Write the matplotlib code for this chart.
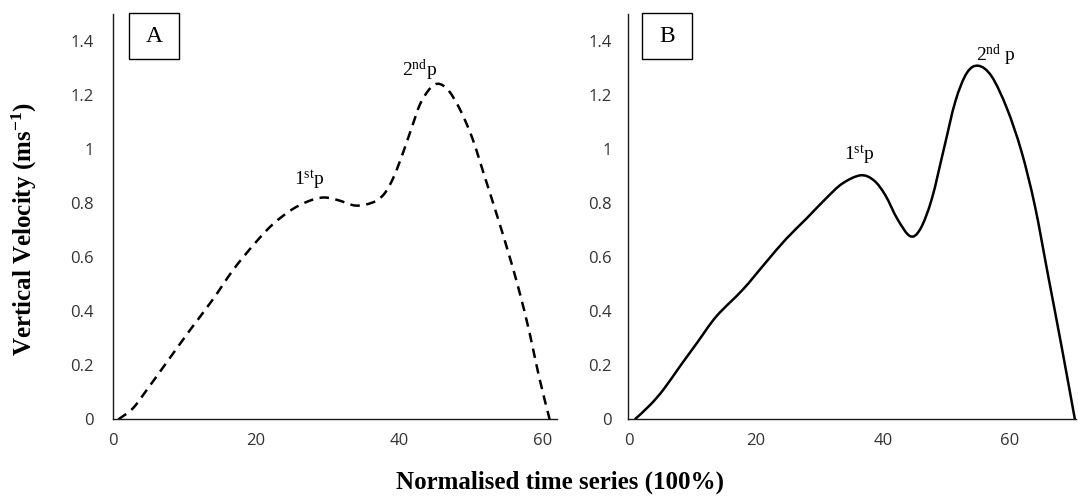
import numpy as np
import matplotlib
matplotlib.use("Agg")
import matplotlib.pyplot as plt
from matplotlib.path import Path
from matplotlib.patches import PathPatch, Rectangle

plt.rcParams["mathtext.fontset"] = "custom"
plt.rcParams["mathtext.rm"] = "Liberation Serif"
plt.rcParams["mathtext.it"] = "Liberation Serif:italic"
plt.rcParams["mathtext.bf"] = "Liberation Serif:bold"

# panel A (dashed)
time_a = [0.8, 2.8, 4.8, 7.8, 10.8, 13.9, 16.9, 19.9, 22.4, 25.0, 27.5, 29.5, 31.5,
          34.0, 36.6, 38.1, 39.3, 40.6, 41.9, 43.1, 44.9, 46.6, 48.4, 50.2,
          51.9, 53.7, 55.2, 56.7, 58.2, 59.5, 61.0]
vel_a = [0.0, 0.04, 0.11, 0.22, 0.33, 0.44, 0.555, 0.652, 0.722, 0.775, 0.808, 0.82, 0.81,
         0.79, 0.805, 0.84, 0.90, 0.99, 1.09, 1.175, 1.237, 1.224, 1.15, 1.04,
         0.90, 0.75, 0.62, 0.48, 0.32, 0.16, 0.0]

# panel B (solid)
time_b = [1.0, 3.4, 5.5, 8.1, 10.7, 13.8, 18.0, 21.6, 24.8, 27.9, 31.0, 33.6,
          36.5, 38.6, 40.4, 42.3, 44.3, 45.9, 47.7, 49.6, 51.4, 53.2, 55.0,
          57.1, 59.5, 61.8, 63.9, 66.0, 68.1, 70.2]
vel_b = [0.0, 0.053, 0.11, 0.196, 0.28, 0.38, 0.48, 0.58, 0.667, 0.74, 0.815, 0.871,
         0.902, 0.883, 0.828, 0.74, 0.677, 0.704, 0.815, 1.00, 1.175, 1.28, 1.307,
         1.268, 1.15, 0.99, 0.79, 0.53, 0.27, 0.0]

y_ticks = [0, 0.2, 0.4, 0.6, 0.8, 1.0, 1.2, 1.4]
y_tick_labels = ["0", "0.2", "0.4", "0.6", "0.8", "1", "1.2", "1.4"]
x_ticks = [0, 20, 40, 60]


def smooth_path(x, y):
    # excel-style smoothed line: catmull-rom segments drawn as bezier curves
    pts = np.column_stack([x, y])
    ext = np.vstack([pts[0], pts, pts[-1]])
    verts = [pts[0]]
    codes = [Path.MOVETO]
    for i in range(1, len(ext) - 2):
        p0, p1, p2, p3 = ext[i - 1], ext[i], ext[i + 1], ext[i + 2]
        verts += [p1 + (p2 - p0) / 6, p2 - (p3 - p1) / 6, p2]
        codes += [Path.CURVE4] * 3
    return Path(verts, codes)


def style_axis(ax, xmax, pad_y):
    ax.set_xlim(0, xmax)
    ax.set_ylim(0, 1.5)
    ax.set_yticks(y_ticks)
    ax.set_yticklabels(y_tick_labels)
    ax.set_xticks(x_ticks)
    for s in ["top", "right"]:
        ax.spines[s].set_visible(False)
    for s in ["left", "bottom"]:
        ax.spines[s].set_linewidth(1.0)
        ax.spines[s].set_color("#1a1a1a")
    ax.tick_params(axis="y", length=0, pad=pad_y, labelsize=12, labelcolor="#333333")
    ax.tick_params(axis="x", length=0, pad=10, labelsize=12, labelcolor="#333333")
    for lab in ax.get_xticklabels() + ax.get_yticklabels():
        lab.set_fontfamily("Open Sans")


fig = plt.figure(figsize=(10.78, 5.01), dpi=100)
ax_a = fig.add_axes([0.1045, 0.163, 0.412, 0.810])
ax_b = fig.add_axes([0.583, 0.163, 0.4153, 0.810])

ax_a.add_patch(PathPatch(smooth_path(time_a, vel_a), fill=False, color="black",
                         lw=1.8, linestyle=(0, (3.8, 2.6))))
ax_b.add_patch(PathPatch(smooth_path(time_b, vel_b), fill=False, color="black", lw=1.8))

style_axis(ax_a, 62, 13.5)
style_axis(ax_b, 70.4, 12)

for ax, letter, x0 in [(ax_a, "A", 0.037), (ax_b, "B", 0.030)]:
    ax.add_patch(Rectangle((x0, 0.888), 0.1125, 0.113, transform=ax.transAxes,
                           fill=False, lw=1.0, edgecolor="black", clip_on=False))
    ax.text(x0 + 0.056, 0.944, letter, transform=ax.transAxes, ha="center", va="center",
            fontsize=17, family="Liberation Serif")

ax_a.text(27.5, 0.885, r"$\mathrm{1^{st}p}$", ha="center", va="center", fontsize=14)
ax_a.text(42.9, 1.29, r"$\mathrm{2^{nd}p}$", ha="center", va="center", fontsize=14)
ax_b.text(36.3, 0.975, r"$\mathrm{1^{st}p}$", ha="center", va="center", fontsize=14)
ax_b.text(57.8, 1.345, r"$\mathrm{2^{nd}\ p}$", ha="center", va="center", fontsize=14)

fig.text(0.023, 1 - 229 / 501, r"Vertical Velocity (ms$^{\mathbf{-1}}$)", rotation=90,
         ha="center", va="center", fontsize=18, fontweight="bold", family="Liberation Serif")
fig.text(560 / 1078, 1 - 482 / 501, "Normalised time series (100%)", ha="center", va="center",
         fontsize=18, fontweight="bold", family="Liberation Serif")

fig.savefig("out.png", dpi=100)
